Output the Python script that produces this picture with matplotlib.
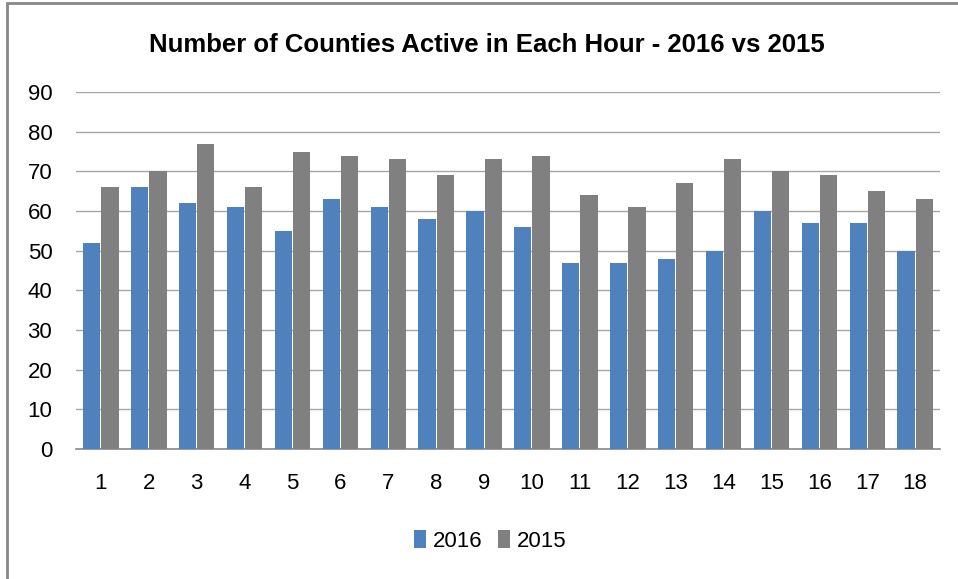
import numpy as np
import matplotlib.pyplot as plt
from matplotlib.patches import Rectangle

plt.rcParams['font.family'] = ['Liberation Sans Narrow', 'Liberation Sans', 'DejaVu Sans']

hours = [str(h) for h in range(1, 19)]
counties_2016 = [52, 66, 62, 61, 55, 63, 61, 58, 60, 56, 47, 47, 48, 50, 60, 57, 57, 50]
counties_2015 = [66, 70, 77, 66, 75, 74, 73, 69, 73, 74, 64, 61, 67, 73, 70, 69, 65, 63]

fig = plt.figure(figsize=(9.58, 5.79), dpi=100)
ax = fig.add_axes([0.0793, 0.2245, 0.902, 0.6165])

x = np.arange(len(hours))
w = 0.36
ax.bar(x - 0.19, counties_2016, w, color='#4F81BD', label='2016', zorder=3)
ax.bar(x + 0.19, counties_2015, w, color='#808080', label='2015', zorder=3)

ax.set_ylim(0, 90)
ax.set_xlim(-0.52, len(hours) - 0.48)
ax.set_yticks(range(0, 91, 10))
ax.set_xticks(x)
ax.set_xticklabels(hours)
ax.tick_params(axis='both', length=0, labelsize=16, colors='#000000')
ax.tick_params(axis='y', pad=17)
ax.tick_params(axis='x', pad=17)
ax.grid(axis='y', color='#A6A6A6', linewidth=1, zorder=0)
for s in ['left', 'right', 'top']:
    ax.spines[s].set_visible(False)
ax.spines['bottom'].set_color('#888888')
ax.spines['bottom'].set_linewidth(1.2)

fig.text(0.508, 0.922, 'Number of Counties Active in Each Hour - 2016 vs 2015',
         ha='center', va='center', fontsize=18.5, fontweight='bold')

fig.legend(loc='center', bbox_to_anchor=(0.512, 0.066), ncol=2, frameon=False,
           fontsize=16, handlelength=0.55, handleheight=0.85, handletextpad=0.3,
           columnspacing=0.7)

fig.patches.append(Rectangle((7 / 958, -0.1), 1.2, 1 - 3 / 579 + 0.1,
                             transform=fig.transFigure, fill=False,
                             edgecolor='#888888', linewidth=2))

fig.savefig('out.png', dpi=100)
